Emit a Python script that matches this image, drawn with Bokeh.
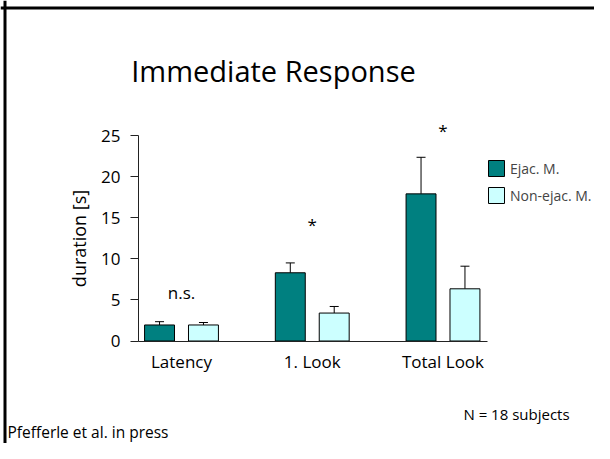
import math
from bokeh.plotting import figure
from bokeh.models import (ColumnDataSource, Range1d, LinearAxis, FixedTicker, Whisker,
                          TeeHead, Label, Legend, LegendItem, Span)
from bokeh.embed import file_html
from bokeh.resources import INLINE
from bokeh.core.properties import value

# ---------------- data ----------------
categories = ["Latency", "1. Look", "Total Look"]
series_names = ["Ejac. M.", "Non-ejac. M."]
ejac_mean = [1.95, 8.3, 17.9]
ejac_err = [0.4, 1.2, 4.45]
nonejac_mean = [1.95, 3.4, 6.35]
nonejac_err = [0.3, 0.8, 2.75]
significance = ["n.s.", "*", "*"]
significance_height = [5.95, 14.2, 25.6]
y_ticks = [0, 5, 10, 15, 20, 25]
y_label = "duration [s]"
title_text = "Immediate Response"
n_text = "N = 18 subjects"
source_text = "Pfefferle et al. in press"

# ---------------- layout (pixels on the canvas) ----------------
FONT = "Open Sans"
W, H = 594, 443
CAT0_PX = 181.0      # x of first category centre
PXU = 130.75         # px per category step
ZERO_PY = 340.5      # y of value 0
PYU = 8.22           # px per second
X0 = -CAT0_PX / PXU
X1 = X0 + W / PXU
Y1 = ZERO_PY / PYU
Y0 = Y1 - H / PYU


def dx(px):
    return X0 + px / PXU


def dy(py):
    return Y1 - py / PYU


p = figure(width=W, height=H, output_backend="svg", toolbar_location=None,
           x_range=Range1d(X0, X1), y_range=Range1d(Y0, Y1),
           x_axis_type=None, y_axis_type=None,
           min_border_left=0, min_border_right=0, min_border_top=0,
           min_border_bottom=0)
p.outline_line_color = None
p.background_fill_color = "white"
p.border_fill_color = "white"

idx = list(range(len(categories)))
off = 0.168
bw = 0.229
src_e = ColumnDataSource(dict(x=[i - off for i in idx], top=ejac_mean,
                              upper=[m + e for m, e in zip(ejac_mean, ejac_err)]))
src_n = ColumnDataSource(dict(x=[i + off for i in idx], top=nonejac_mean,
                              upper=[m + e for m, e in zip(nonejac_mean, nonejac_err)]))

for src in (src_e, src_n):
    w = Whisker(source=src, base="x", lower="top", upper="upper", dimension="height",
                line_color="black", line_width=1, lower_head=None,
                upper_head=TeeHead(size=9, line_color="black", line_width=1))
    p.add_layout(w)

r_e = p.vbar(x="x", top="top", bottom=0, width=bw, source=src_e,
             fill_color="#008080", line_color="black", line_width=1)
r_n = p.vbar(x="x", top="top", bottom=0, width=bw, source=src_n,
             fill_color="#CCFFFF", line_color="black", line_width=1)

# axes (drawn inside the frame, crossing at the data origin)
yaxis = LinearAxis(bounds=(0, max(y_ticks)), ticker=FixedTicker(ticks=y_ticks),
                   fixed_location=dx(138))
yaxis.axis_line_color = "#222222"
yaxis.major_tick_line_color = "#222222"
yaxis.major_tick_out = 8
yaxis.major_tick_in = 0
yaxis.minor_tick_line_color = None
yaxis.major_label_standoff = 10
yaxis.major_label_text_font = FONT
yaxis.major_label_text_font_size = "17px"
yaxis.major_label_text_color = "black"
p.add_layout(yaxis, "left")

xaxis = LinearAxis(bounds=(dx(138), len(categories) - 1 + 0.34),
                   ticker=FixedTicker(ticks=idx), fixed_location=0,
                   major_label_overrides={i: c for i, c in zip(idx, categories)})
xaxis.axis_line_color = "#222222"
xaxis.major_tick_line_color = None
xaxis.major_tick_out = 0
xaxis.major_tick_in = 0
xaxis.minor_tick_line_color = None
xaxis.major_label_standoff = 9
xaxis.major_label_text_font = FONT
xaxis.major_label_text_font_size = "17px"
xaxis.major_label_text_color = "black"
p.add_layout(xaxis, "below")

# significance marks
p.text(x=idx, y=significance_height, text=significance, text_align="center",
       text_baseline="alphabetic", text_font=value(FONT), text_font_size="17px",
       text_color="black")

# legend
legend = Legend(items=[LegendItem(label=series_names[0], renderers=[r_e]),
                       LegendItem(label=series_names[1], renderers=[r_n])],
                location=(486, 254 - (459 - H)), glyph_width=20, glyph_height=20,
                label_text_font=FONT, label_text_font_size="14px",
                label_standoff=4, label_height=20, spacing=7, padding=0, margin=0,
                border_line_color=None, background_fill_alpha=0)
p.add_layout(legend)

# texts (y given as the text's vertical centre)
p.add_layout(Label(x=dx(78), y=dy(238), text=y_label, angle=math.pi / 2,
                   text_align="center", text_baseline="middle", text_font=FONT,
                   text_font_size="18px", text_color="black"))
p.add_layout(Label(x=dx(273), y=dy(70), text=title_text, text_align="center",
                   text_baseline="middle", text_font=FONT, text_font_size="29px",
                   text_color="black"))
p.add_layout(Label(x=dx(516), y=dy(413), text=n_text, text_align="center",
                   text_baseline="middle", text_font=FONT, text_font_size="15px",
                   text_color="black"))
p.add_layout(Label(x=dx(7), y=dy(431), text=source_text, text_align="left",
                   text_baseline="middle", text_font=FONT, text_font_size="15.5px",
                   text_color="black"))

# slide border (left and top)
p.add_layout(Span(location=dx(4.5), dimension="height", line_color="black", line_width=3))
p.add_layout(Span(location=dy(7.5), dimension="width", line_color="black", line_width=3))

open("out.html", "w").write(file_html(p, INLINE))
